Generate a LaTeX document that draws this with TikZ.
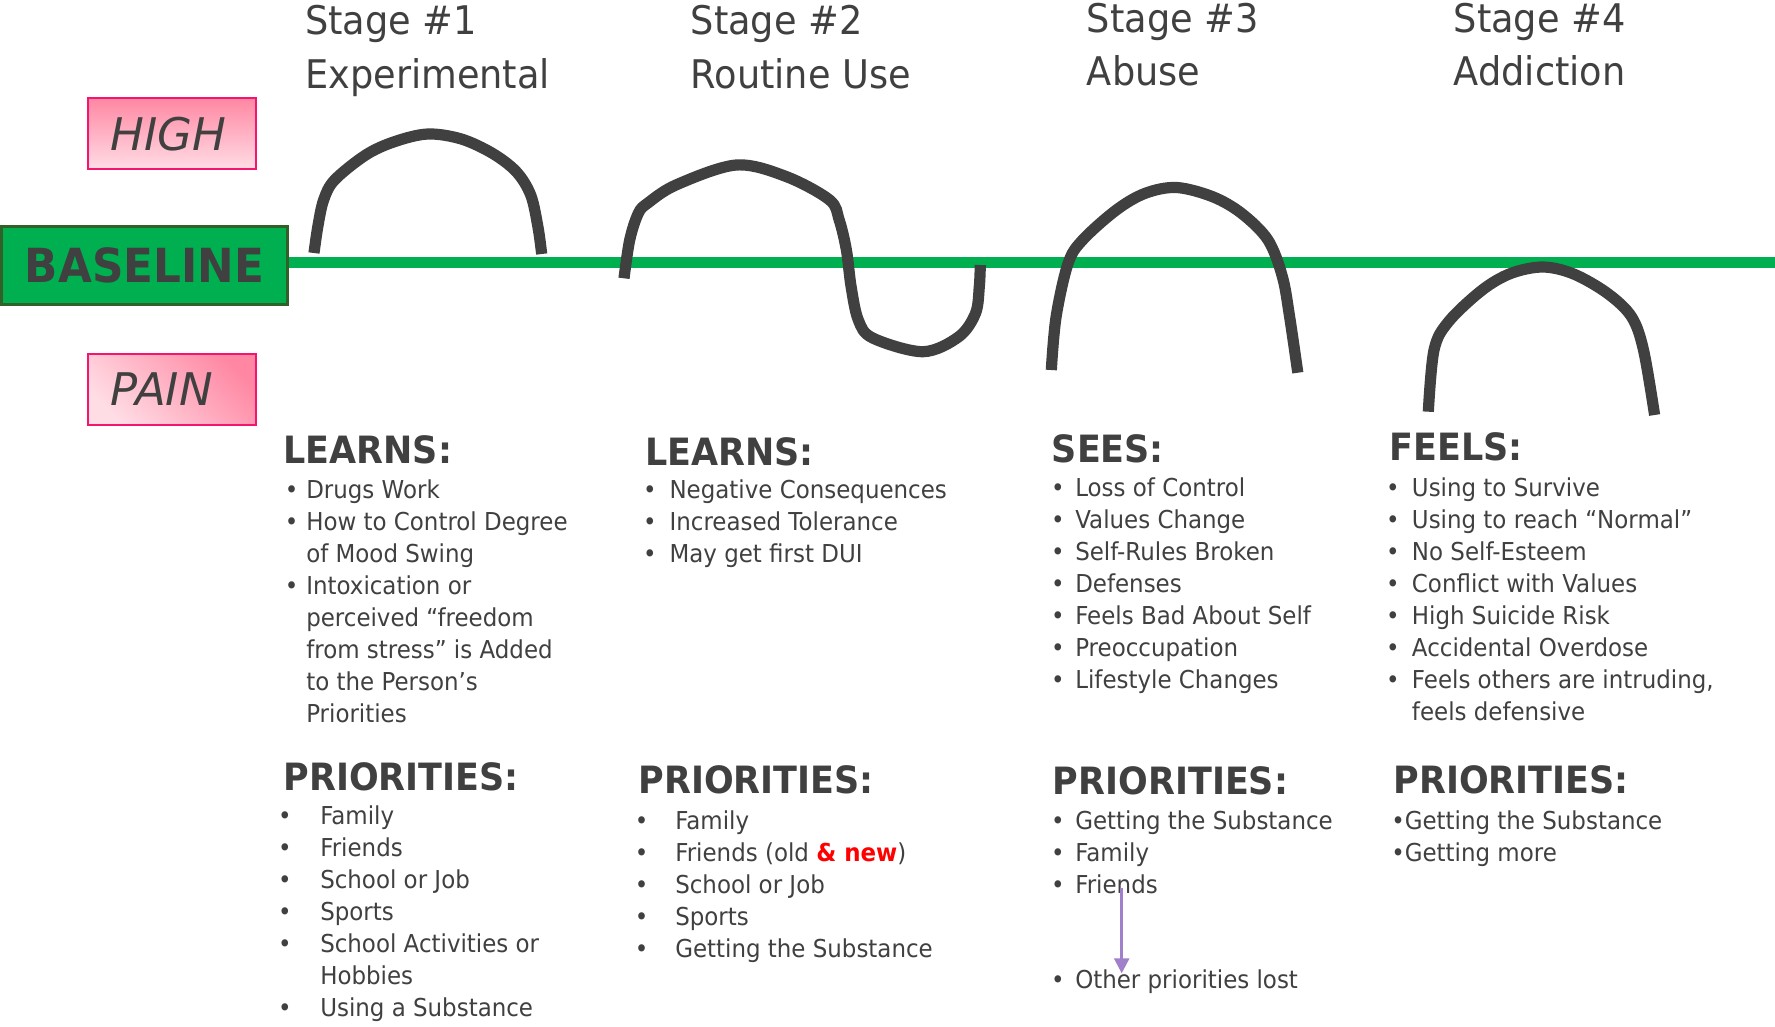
\documentclass[tikz,border=0pt]{standalone}
\usepackage{fontspec}
\setmainfont{DejaVu Sans}[FakeStretch=0.93]
\newfontfamily\boxfont{DejaVu Sans}
\usetikzlibrary{arrows.meta}
\definecolor{txt}{HTML}{404040}
\definecolor{grn}{HTML}{00B050}
\definecolor{grnb}{HTML}{2F6128}
\definecolor{pinkd}{HTML}{FF87A3}
\definecolor{pinkl}{HTML}{FFDDE5}
\definecolor{pinkb}{HTML}{F5156E}
\definecolor{purp}{HTML}{A07FCB}
\newcommand\bodyfs{\fontsize{18.5pt}{23.5pt}\selectfont}
\newcommand\headfs{\fontsize{28.2pt}{30pt}\selectfont}
\newcommand\titlefs{\fontsize{29.6pt}{32pt}\selectfont}
\tikzset{
  ln/.style={inner sep=0pt, anchor=base west, text=txt, font=\bodyfs},
  bul/.style={inner sep=0pt, anchor=base, text=txt, font=\bodyfs},
  head/.style={inner sep=0pt, anchor=base west, text=txt, font=\headfs\bfseries},
  ttl/.style={inner sep=0pt, anchor=base west, text=txt, font=\titlefs},
  swing/.style={draw=txt, line width=8.4pt},
  levelbox/.style={draw=pinkb, line width=1.5pt, minimum width=125.8pt, minimum height=53.5pt,
    inner sep=0pt, text=txt, font=\boxfont\itshape\fontsize{33.75pt}{40pt}\selectfont},
  basebox/.style={draw=grnb, fill=grn, line width=2.25pt, minimum width=214.2pt, minimum height=58.7pt,
    inner sep=0pt, text=txt, font=\bfseries\fontsize{35.25pt}{40pt}\selectfont},
  greenline/.style={draw=grn, line width=8.25pt},
  lostarrow/.style={draw=purp, line width=1.9pt, -{Triangle[width=11.25pt,length=11.25pt]}}
}
\newcommand\itemlist[5]{%
  \foreach \b/\t [count=\i from 0] in {#5} {
    \node[ln] (#1-\i) at (#3, #4+32*\i) {\t};
    \ifnum\b=1 \node[bul] (#1b-\i) at (#2, #4+32*\i) {•};\fi
  }}
\begin{document}
\begin{tikzpicture}[x=0.75pt, y=-0.75pt]
\useasboundingbox (0,0) rectangle (1775,1026);
\fill[white] (0,0) rectangle (1775,1026);

% titles
\node[ttl] (t1a) at (305,34.5) {Stage \#1};
\node[ttl] (t1b) at (305,88) {Experimental};
\node[ttl] (t2a) at (690.5,34.5) {Stage \#2};
\node[ttl] (t2b) at (690.5,88) {Routine Use};
\node[ttl] (t3a) at (1086.7,32) {Stage \#3};
\node[ttl] (t3b) at (1086.7,85) {Abuse};
\node[ttl] (t4a) at (1453.5,32) {Stage \#4};
\node[ttl] (t4b) at (1453.5,85) {Addiction};

% level boxes
\node[levelbox, top color=pinkd, bottom color=pinkl] (high) at (172.2,133.8) {\makebox[93pt][l]{HIGH}};
\node[levelbox, top color=pinkd, bottom color=pinkl, shading angle=-45] (pain) at (172.2,389.2) {\makebox[93pt][l]{PAIN}};
\node[basebox] (bl) at (144.5,265.8) {BASELINE};

% baseline
\coordinate (lineend) at (1775,262.5);
\draw[greenline] (bl.east |- lineend) -- (lineend);

% mood swings
\draw[swing] plot[smooth, tension=0.55] coordinates {(314,253) (317.8,226.7) (323.6,200) (334.6,180) (365.7,155) (394.4,141.7) (427.8,134) (461.3,139) (492.4,153.3) (516.3,171.7) (530.7,195) (537.9,226.7) (541.7,254)};
\draw[swing] plot[smooth, tension=0.55] coordinates {(624,278.3) (629.7,240) (638.3,213.3) (647.9,203) (676.6,184.7) (736.3,165) (786.6,176.7) (829.6,200) (839.2,220) (846.4,250) (851.1,286.7) (858.3,320) (872.7,338) (922.9,351.7) (958.8,336.7) (975.5,313.3) (979.3,286.7) (980.3,265)};
\draw[swing] plot[smooth, tension=0.55] coordinates {(1051.3,370) (1056.1,316.7) (1068.1,263.3) (1082.6,240) (1116.3,210) (1145.2,193.3) (1176.5,187.5) (1212.6,196.7) (1241.5,213.3) (1268,240) (1282.4,276.7) (1289.6,316.7) (1297.8,372.7)};
\draw[swing] plot[smooth, tension=0.55] coordinates {(1428.3,411.7) (1434,350) (1448.5,321.7) (1482.2,290) (1511.1,273.3) (1543,267) (1573.7,274) (1607.4,293.3) (1631.5,316.7) (1643.5,350) (1654.6,415)};

% column 1
\node[head] (h1) at (283.3,463.3) {LEARNS:};
\itemlist{c1l}{291.7}{306}{498}{1/Drugs Work, 1/How to Control Degree, 0/of Mood Swing, 1/Intoxication or, 0/perceived “freedom, 0/from stress” is Added, 0/to the Person’s, 0/Priorities}
\node[head] (p1) at (283.3,790) {PRIORITIES:};
\itemlist{c1p}{285}{320}{824}{1/Family, 1/Friends, 1/School or Job, 1/Sports, 1/School Activities or, 0/Hobbies, 1/Using a Substance}

% column 2
\node[head] (h2) at (645,465) {LEARNS:};
\itemlist{c2l}{650}{669.3}{498}{1/Negative Consequences, 1/Increased Tolerance, 1/May get first DUI}
\node[head] (p2) at (638.3,793.3) {PRIORITIES:};
\itemlist{c2p}{641.7}{675}{829}{1/Family, 1/Friends (old \textcolor{red}{\textbf{\& new}}), 1/School or Job, 1/Sports, 1/Getting the Substance}

% column 3
\node[head] (h3) at (1051.6,462) {SEES:};
\itemlist{c3l}{1058}{1075}{496}{1/Loss of Control, 1/Values Change, 1/Self-Rules Broken, 1/Defenses, 1/Feels Bad About Self, 1/Preoccupation, 1/Lifestyle Changes}
\node[head] (p3) at (1052.7,794) {PRIORITIES:};
\itemlist{c3p}{1058}{1075}{829.5}{1/Getting the Substance, 1/Family, 1/Friends}
\node[ln] (lost) at (1075,988.3) {Other priorities lost};
\node[bul] (lostb) at (1058,988.3) {•};
\coordinate (arrs) at (1121.7,888);
\coordinate (arre) at (1121.7,973.3);
\draw[lostarrow] (arrs) -- (arre);

% column 4
\node[head] (h4) at (1389.3,460.7) {FEELS:};
\itemlist{c4l}{1393}{1411.7}{496}{1/Using to Survive, 1/Using to reach “Normal”, 1/No Self-Esteem, 1/Conflict with Values, 1/High Suicide Risk, 1/Accidental Overdose, 1/Feels others are intruding{,}, 0/feels defensive}
\node[head] (p4) at (1393.3,793.3) {PRIORITIES:};
\node[ln] (c4p-0) at (1391,829.5) {•Getting the Substance};
\node[ln] (c4p-1) at (1391,861) {•Getting more};
\end{tikzpicture}
\end{document}
